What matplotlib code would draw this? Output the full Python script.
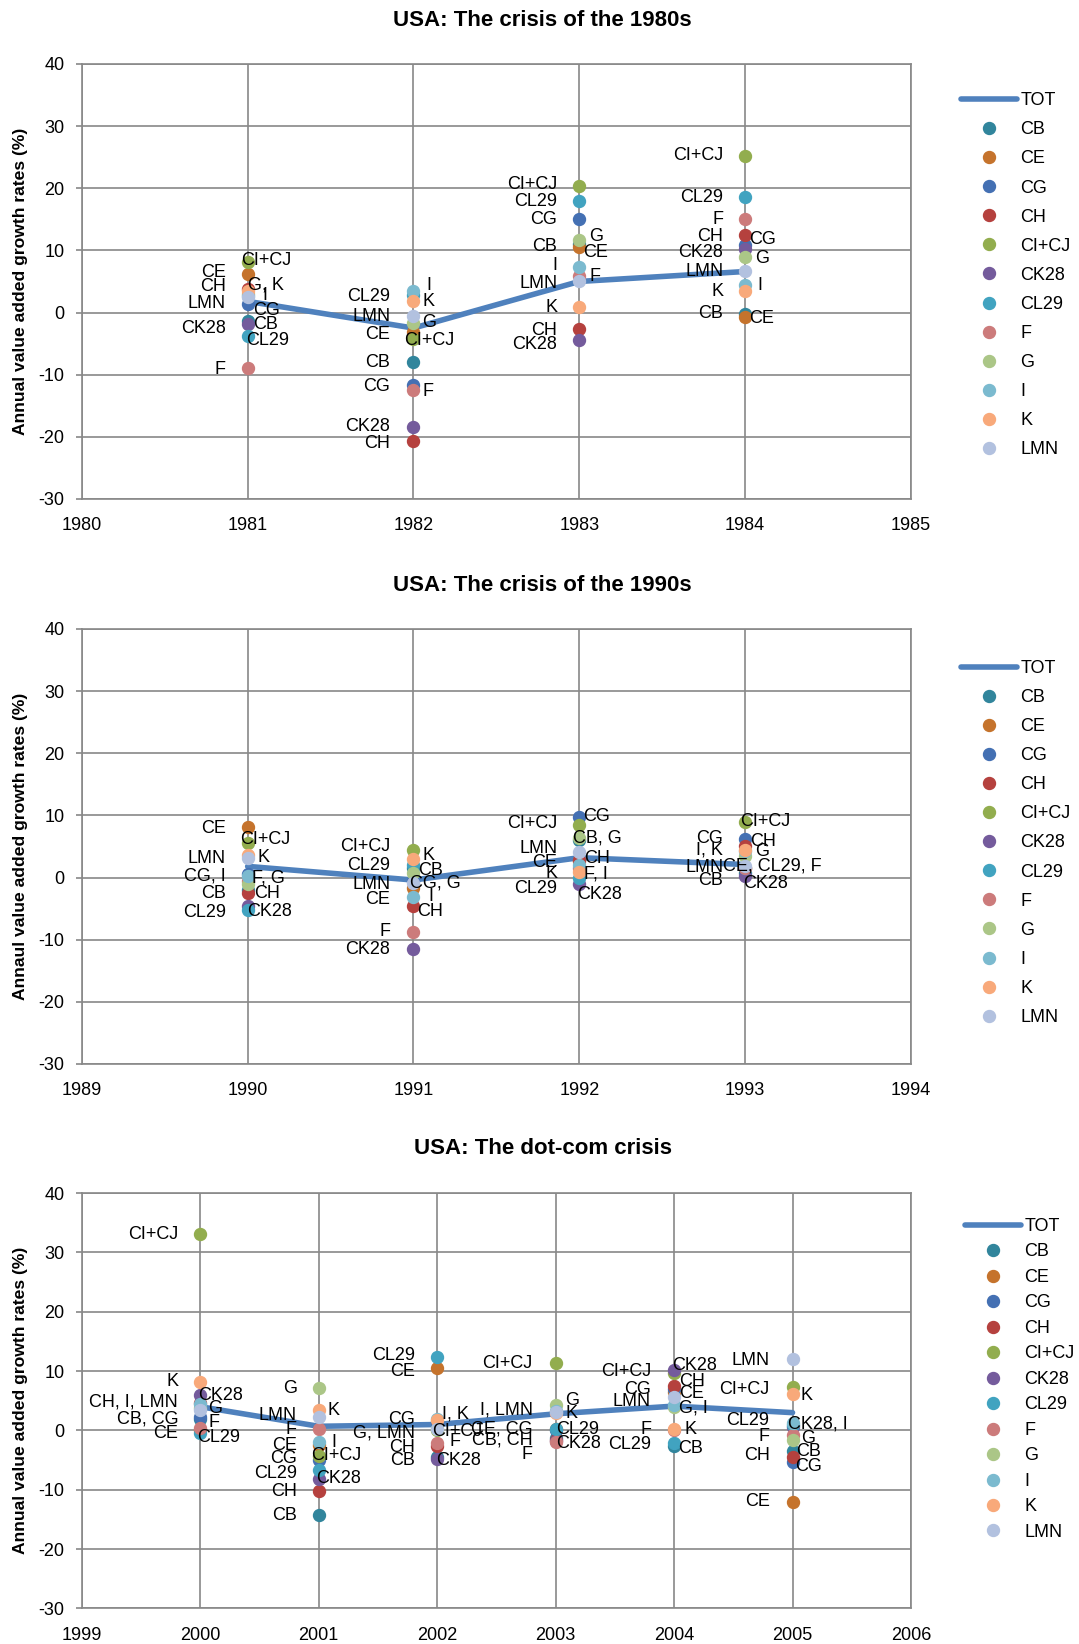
import matplotlib
matplotlib.use("Agg")
import matplotlib.pyplot as plt
from matplotlib.lines import Line2D

plt.rcParams['font.family'] = ['Liberation Sans', 'DejaVu Sans']
plt.rcParams['axes.unicode_minus'] = False

# Sectors (row order of the value tables below)
sectors = ["CB", "CE", "CG", "CH", "CI+CJ", "CK28", "CL29", "F", "G", "I", "K", "LMN"]
colors = ["#31859C", "#C5732C", "#4470B3", "#B5413E", "#92AD4E", "#745B9C",
          "#41A3C0", "#CC7B7B", "#ABC687", "#7BBACF", "#F8A97A", "#B2C1DF"]
tot_color = "#4F81BD"

# --- 1980s crisis ---
years_1980s = [1981, 1982, 1983, 1984]
tot_1980s = [1.8, -2.5, 5.0, 6.6]
values_1980s = [
    [-1.4, -8.0, 11.0, -0.2],    # CB
    [6.2, -3.2, 10.5, -0.7],     # CE
    [1.3, -11.6, 15.0, 10.9],    # CG
    [3.8, -20.6, -2.7, 12.5],    # CH
    [8.2, -4.3, 20.4, 25.2],     # CI+CJ
    [-1.8, -18.4, -4.4, 10.3],   # CK28
    [-3.7, 2.8, 17.9, 18.6],     # CL29
    [-9.0, -12.5, 5.8, 15.0],    # F
    [3.0, -1.7, 11.7, 8.9],      # G
    [2.6, 3.5, 7.4, 4.4],        # I
    [3.5, 1.9, 0.9, 3.5],        # K
    [2.5, -0.5, 5.1, 6.7],       # LMN
]

# --- 1990s crisis ---
years_1990s = [1990, 1991, 1992, 1993]
tot_1990s = [1.8, -0.4, 3.2, 2.1]
values_1990s = [
    [-2.0, 1.5, 6.0, 0.7],       # CB
    [8.1, -1.7, 2.6, 1.5],       # CE
    [0.5, -0.5, 9.7, 6.2],       # CG
    [-2.5, -4.6, 2.8, 5.0],      # CH
    [5.6, 4.4, 8.4, 9.0],        # CI+CJ
    [-4.6, -11.5, -1.1, 0.2],    # CK28
    [-5.2, 2.0, 0.0, 1.5],       # CL29
    [-0.5, -8.7, 1.6, 1.5],      # F
    [-1.0, 0.7, 6.3, 3.5],       # G
    [0.3, -3.1, 2.0, 4.2],       # I
    [3.7, 3.0, 0.9, 4.4],        # K
    [3.2, -0.9, 4.1, 1.9],       # LMN
]

# --- dot-com crisis ---
years_2000s = [2000, 2001, 2002, 2003, 2004, 2005]
tot_2000s = [4.0, 0.7, 1.0, 2.8, 4.1, 3.0]
values_2000s = [
    [2.0, -14.3, -4.5, -1.3, -2.6, -3.4],   # CB
    [0.1, -2.5, 10.6, 0.3, 6.5, -12.0],     # CE
    [2.3, -4.9, 1.5, 0.0, 7.0, -5.3],       # CG
    [4.7, -10.2, -2.6, -1.6, 7.5, -4.5],    # CH
    [33.1, -4.3, 0.0, 11.4, 9.6, 7.3],      # CI+CJ
    [5.9, -8.1, -4.8, -1.8, 10.2, 0.6],     # CK28
    [-0.5, -6.7, 12.4, 0.2, -2.1, 1.0],     # CL29
    [0.4, 0.2, -2.1, -2.0, 0.0, -0.7],      # F
    [3.8, 7.1, 0.3, 4.3, 4.0, -1.6],        # G
    [4.5, -1.9, 1.9, 3.3, 4.3, 1.3],        # I
    [8.2, 3.5, 1.8, 3.0, 0.2, 6.2],         # K
    [3.5, 2.3, 0.2, 3.1, 5.7, 12.1],        # LMN
]

# data labels: (year, label y, text, alignment, pixel offset of anchor edge)
labels_1980s = [
    (1981, 8.3, "CI+CJ", "left", -7), (1981, 6.4, "CE", "right", -22),
    (1981, 4.2, "CH", "right", -22), (1981, 4.4, "G, K", "left", 0),
    (1981, 2.8, "I", "left", 15), (1981, 1.5, "LMN", "right", -22),
    (1981, 0.3, "CG", "left", 5), (1981, -2.0, "CB", "left", 5),
    (1981, -2.5, "CK28", "right", -22), (1981, -4.5, "CL29", "left", -2),
    (1981, -9.1, "F", "right", -22),
    (1982, 4.4, "I", "left", 13), (1982, 2.5, "CL29", "right", -23),
    (1982, 1.8, "K", "left", 9), (1982, -0.6, "LMN", "right", -23),
    (1982, -1.6, "G", "left", 9), (1982, -3.5, "CE", "right", -23),
    (1982, -4.5, "CI+CJ", "left", -9), (1982, -8.1, "CB", "right", -23),
    (1982, -11.9, "CG", "right", -23), (1982, -12.7, "F", "left", 9),
    (1982, -18.4, "CK28", "right", -23), (1982, -21.1, "CH", "right", -23),
    (1983, 20.6, "CI+CJ", "right", -22), (1983, 17.9, "CL29", "right", -22),
    (1983, 15.0, "CG", "right", -22), (1983, 12.2, "G", "left", 10),
    (1983, 10.7, "CB", "right", -22), (1983, 9.6, "CE", "left", 4),
    (1983, 7.5, "I", "right", -22), (1983, 5.8, "F", "left", 10),
    (1983, 4.6, "LMN", "right", -22), (1983, 0.8, "K", "right", -22),
    (1983, -2.9, "CH", "right", -22), (1983, -5.2, "CK28", "right", -22),
    (1984, 25.2, "CI+CJ", "right", -22), (1984, 18.5, "CL29", "right", -22),
    (1984, 15.0, "F", "right", -22), (1984, 12.2, "CH", "right", -22),
    (1984, 11.7, "CG", "left", 4), (1984, 9.6, "CK28", "right", -22),
    (1984, 8.7, "G", "left", 10), (1984, 6.6, "LMN", "right", -22),
    (1984, 4.3, "I", "left", 12), (1984, 3.4, "K", "right", -22),
    (1984, -0.2, "CB", "right", -22), (1984, -0.9, "CE", "left", 4),
]

labels_1990s = [
    (1990, 7.9, "CE", "right", -22), (1990, 6.1, "CI+CJ", "left", -8),
    (1990, 3.0, "LMN", "right", -22), (1990, 3.3, "K", "left", 10),
    (1990, 0.2, "CG, I", "right", -22), (1990, -0.1, "F, G", "left", 4),
    (1990, -2.5, "CB", "right", -22), (1990, -2.6, "CH", "left", 6),
    (1990, -5.7, "CL29", "right", -22), (1990, -5.4, "CK28", "left", -1),
    (1991, 5.0, "CI+CJ", "right", -23), (1991, 3.6, "K", "left", 9),
    (1991, 2.0, "CL29", "right", -23), (1991, 1.2, "CB", "left", 5),
    (1991, -1.1, "LMN", "right", -23), (1991, -0.9, "CG, G", "left", -3),
    (1991, -3.5, "CE", "right", -23), (1991, -3.1, "I", "left", 15),
    (1991, -5.5, "CH", "left", 4), (1991, -8.7, "F", "right", -23),
    (1991, -11.6, "CK28", "right", -23),
    (1992, 9.8, "CG", "left", 4), (1992, 8.7, "CI+CJ", "right", -22),
    (1992, 6.3, "CB, G", "left", -6), (1992, 4.6, "LMN", "right", -22),
    (1992, 3.0, "CH", "left", 5), (1992, 2.5, "CE", "right", -22),
    (1992, 0.6, "K", "right", -22), (1992, 0.5, "F, I", "left", 5),
    (1992, -1.7, "CL29", "right", -22), (1992, -2.8, "CK28", "left", -2),
    (1993, 9.1, "CI+CJ", "left", -5), (1993, 6.3, "CG", "right", -22),
    (1993, 5.8, "CH", "left", 5), (1993, 4.5, "I, K", "right", -22),
    (1993, 4.2, "G", "left", 10), (1993, 1.7, "LMN", "right", -22),
    (1993, 1.8, "CE, CL29, F", "left", -22), (1993, -0.5, "CB", "right", -22),
    (1993, -1.0, "CK28", "left", -2),
]

labels_2000s = [
    (2000, 33.0, "CI+CJ", "right", -22), (2000, 8.2, "K", "right", -22),
    (2000, 5.9, "CK28", "left", -2), (2000, 4.8, "CH, I, LMN", "right", -22),
    (2000, 3.7, "G", "left", 8), (2000, 2.0, "CB, CG", "right", -22),
    (2000, 1.3, "F", "left", 8), (2000, -0.5, "CE", "right", -22),
    (2000, -1.2, "CL29", "left", -3),
    (2001, 7.1, "G", "right", -22), (2001, 3.4, "K", "left", 9),
    (2001, 2.6, "LMN", "right", -22), (2001, 0.2, "F", "right", -22),
    (2001, -2.5, "CE", "right", -22), (2001, -2.1, "I", "left", 13),
    (2001, -4.7, "CG", "right", -22), (2001, -4.3, "CI+CJ", "left", -8),
    (2001, -7.2, "CL29", "right", -22), (2001, -8.1, "CK28", "left", -3),
    (2001, -10.3, "CH", "right", -22), (2001, -14.3, "CB", "right", -22),
    (2002, 12.7, "CL29", "right", -22), (2002, 9.9, "CE", "right", -22),
    (2002, 1.9, "CG", "right", -22), (2002, 2.7, "I, K", "left", 5),
    (2002, -0.5, "G, LMN", "right", -22), (2002, -0.1, "CI+CJ", "left", -5),
    (2002, -1.9, "F", "left", 12), (2002, -2.8, "CH", "right", -22),
    (2002, -5.1, "CB", "right", -22), (2002, -5.0, "CK28", "left", -1),
    (2003, 11.3, "CI+CJ", "right", -23), (2003, 5.1, "G", "left", 10),
    (2003, 3.4, "I, LMN", "right", -23), (2003, 2.9, "K", "left", 10),
    (2003, 0.3, "CE, CG", "right", -23), (2003, 0.2, "CL29", "left", 1),
    (2003, -1.6, "CB, CH", "right", -23), (2003, -2.2, "CK28", "left", 1),
    (2003, -4.0, "F", "right", -23),
    (2004, 11.0, "CK28", "left", -2), (2004, 9.9, "CI+CJ", "right", -23),
    (2004, 8.2, "CH", "left", 5), (2004, 6.9, "CG", "right", -23),
    (2004, 6.3, "CE", "left", 5), (2004, 4.8, "LMN", "right", -23),
    (2004, 3.7, "G, I", "left", 5), (2004, 0.2, "F", "right", -23),
    (2004, 0.2, "K", "left", 10), (2004, -2.3, "CL29", "right", -23),
    (2004, -3.1, "CB", "left", 4),
    (2005, 11.8, "LMN", "right", -23), (2005, 6.9, "CI+CJ", "right", -23),
    (2005, 5.9, "K", "left", 8), (2005, 1.6, "CL29", "right", -23),
    (2005, 1.1, "CK28, I", "left", -5), (2005, -1.0, "F", "right", -23),
    (2005, -1.3, "G", "left", 9), (2005, -3.6, "CB", "left", 4),
    (2005, -4.3, "CH", "right", -23), (2005, -6.1, "CG", "left", 3),
    (2005, -12.0, "CE", "right", -23),
]

W, H = 1079, 1644
fig = plt.figure(figsize=(W / 100, H / 100), dpi=100)

grid_color = "#888888"


def draw_panel(rect, years, tot, values, labels, xlim, title, ylabel,
               title_y, leg_anchor, leg_spacing):
    ax = fig.add_axes(rect)
    ax.plot(years, tot, color=tot_color, lw=4, zorder=2, solid_capstyle='round')
    for name, col, row in zip(sectors, colors, values):
        ax.plot(years, row, ls='none', marker='o', ms=8.6, color=col,
                mec=col, zorder=3)
    for yr, yv, txt, ha, dx in labels:
        ax.annotate(txt, xy=(yr, yv), xytext=(dx, 0), textcoords='offset pixels',
                    ha=ha, va='center', fontsize=13, color='black', zorder=5)
    ax.set_xlim(*xlim)
    ax.set_ylim(-30, 40)
    ax.set_xticks(range(xlim[0], xlim[1] + 1))
    ax.set_yticks(range(-30, 41, 10))
    ax.grid(True, color=grid_color, lw=1.2, zorder=0)
    ax.set_axisbelow(True)
    for sp in ax.spines.values():
        sp.set_color(grid_color)
        sp.set_linewidth(1.2)
    ax.tick_params(axis='y', length=4.3, width=1.2, color=grid_color,
                   labelsize=13, pad=8)
    ax.tick_params(axis='x', length=0, labelsize=13, pad=13)
    fig.text(0.503, title_y, title, ha='center', va='center',
             fontsize=16, fontweight='bold')
    fig.text(21 / W, rect[1] + rect[3] / 2, ylabel, rotation=90, ha='center',
             va='center', fontsize=12.6, fontweight='bold')
    handles = [Line2D([], [], color=tot_color, lw=4, solid_capstyle='round')]
    handles += [Line2D([], [], ls='none', marker='o', ms=8.6, color=c)
                for c in colors]
    ax.legend(handles, ["TOT"] + sectors, loc='upper left',
              bbox_to_anchor=leg_anchor, frameon=False, fontsize=13,
              handlelength=3.1, handletextpad=0.2, labelspacing=leg_spacing,
              borderpad=0, borderaxespad=0)
    return ax


draw_panel([0.0758, 0.6965, 0.7685, 0.2646], years_1980s, tot_1980s, values_1980s,
           labels_1980s, (1980, 1985), "USA: The crisis of the 1980s",
           "Annual value added growth rates (%)", 1 - 20 / H, (1.060, 0.935), 0.67)
draw_panel([0.0758, 0.3528, 0.7685, 0.2646], years_1990s, tot_1990s, values_1990s,
           labels_1990s, (1989, 1994), "USA: The crisis of the 1990s",
           "Annaul value added growth rates (%)", 1 - 585 / H, (1.060, 0.929), 0.67)
draw_panel([0.0758, 0.0216, 0.7685, 0.2527], years_2000s, tot_2000s, values_2000s,
           labels_2000s, (1999, 2006), "USA: The dot-com crisis",
           "Annual value added growth rates (%)", 1 - 1149 / H, (1.065, 0.94), 0.47)

fig.savefig("out.png", dpi=100)
